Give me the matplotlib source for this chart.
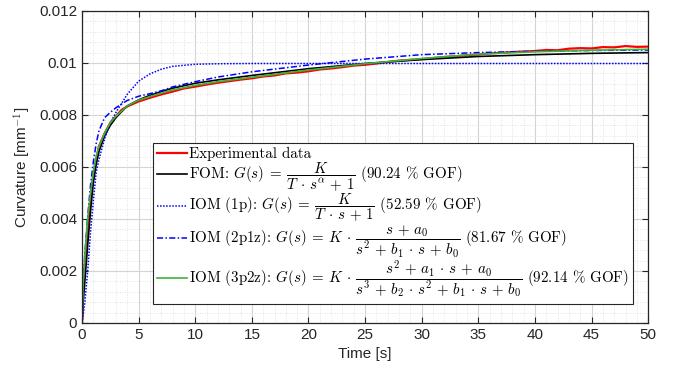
import matplotlib
matplotlib.use('Agg')
import matplotlib.pyplot as plt
from matplotlib.ticker import MultipleLocator, FormatStrFormatter

plt.rcParams['mathtext.fontset'] = 'cm'

# time grid for the model curves
t_mod = [0, 0.1, 0.25, 0.5, 0.75, 1, 1.25, 1.5, 2, 2.5, 3, 4, 5, 6, 7, 8,
         10, 12, 15, 20, 25, 30, 35, 40, 45, 50]

fom = [0, 0.0008, 0.0016, 0.0030, 0.0043, 0.0054, 0.0061, 0.0066, 0.0072, 0.0076,
       0.0079, 0.00835, 0.00858, 0.00876, 0.0089, 0.00903, 0.00922, 0.00935, 0.00952,
       0.00978, 0.00998, 0.01013, 0.01025, 0.01032, 0.01037, 0.0104]
iom_1p = [0, 0.0003, 0.0008, 0.0020, 0.0035, 0.0047, 0.0058, 0.0063, 0.0071, 0.0077,
          0.0081, 0.0088, 0.0093, 0.00958, 0.00976, 0.00987, 0.00995, 0.00997, 0.00998,
          0.00998, 0.00998, 0.00998, 0.00998, 0.00998, 0.00998, 0.00998]
iom_2p1z = [0, 0.0015, 0.0027, 0.0041, 0.0053, 0.0062, 0.0069, 0.0074, 0.0079, 0.0081,
            0.00828, 0.00856, 0.00872, 0.00882, 0.00893, 0.00908, 0.00928, 0.00946, 0.00966,
            0.00992, 0.01015, 0.01032, 0.0104, 0.01045, 0.01048, 0.0105]
iom_3p2z = [0, 0.0015, 0.0025, 0.0040, 0.0050, 0.0058, 0.0064, 0.0068, 0.0073, 0.0077,
            0.00795, 0.00835, 0.00857, 0.00871, 0.00884, 0.00896, 0.00914, 0.00928, 0.00945,
            0.00973, 0.00997, 0.01017, 0.01034, 0.01043, 0.01049, 0.01053]

# measured curve
t_exp = [0, 0.1, 0.25, 0.5, 0.75, 1, 1.25, 1.5, 2, 2.5, 3, 3.5, 4, 5, 6, 7, 8, 9, 10,
         11, 12, 13, 14, 15, 16, 17, 18, 19, 20, 21, 22, 23, 24, 25, 26, 27, 28, 29, 30,
         31, 32, 33, 34, 35, 36, 37, 38, 39, 40, 41, 42, 43, 44, 45, 46, 47, 48, 49, 50]
exp_data = [0, 0.0012, 0.0023, 0.0037, 0.0048, 0.0057, 0.0063, 0.0068, 0.0073, 0.0077,
            0.00795, 0.0082, 0.00833, 0.00852, 0.00866, 0.00879, 0.0089, 0.00902, 0.00909,
            0.00917, 0.00924, 0.0093, 0.00936, 0.00941, 0.00948, 0.00952, 0.0096, 0.00963,
            0.00968, 0.00975, 0.00979, 0.00984, 0.0099, 0.00993, 0.00998, 0.01004, 0.01009,
            0.01012, 0.01015, 0.01019, 0.01023, 0.01026, 0.0103, 0.01033, 0.01037, 0.01039,
            0.01042, 0.01044, 0.01046, 0.0105, 0.01049, 0.01055, 0.01057, 0.01056, 0.01061,
            0.0106, 0.01065, 0.01062, 0.01063]

labels = [
    r'Experimental data',
    r'FOM: $G(s)\:=\:\dfrac{K}{T\,\cdot\,s^{\alpha}\,+\,1}$ (90.24 % GOF)',
    r'IOM (1p): $G(s)\:=\:\dfrac{K}{T\,\cdot\,s\,+\,1}$ (52.59 % GOF)',
    r'IOM (2p1z): $G(s)\:=\:K\,\cdot\,\dfrac{s\,+\,a_0}{s^2\,+\,b_1\,\cdot\,s\,+\,b_0}$ (81.67 % GOF)',
    r'IOM (3p2z): $G(s)\:=\:K\,\cdot\,\dfrac{s^2\,+\,a_1\,\cdot\,s\,+\,a_0}'
    r'{s^3\,+\,b_2\,\cdot\,s^2\,+\,b_1\,\cdot\,s\,+\,b_0}$ (92.14 % GOF)',
]

fig = plt.figure(figsize=(6.78, 3.79), dpi=100)
ax = fig.add_axes([0.121, 0.148, 0.835, 0.823])

ax.plot(t_exp, exp_data, color='#ff0000', lw=1.6, label=labels[0])
ax.plot(t_mod, fom, color='k', lw=1.2, label=labels[1])
ax.plot(t_mod, iom_1p, color='#0000ff', lw=1.1, ls=(0, (1, 1)), label=labels[2])
ax.plot(t_mod, iom_2p1z, color='#0000ff', lw=1.1, ls=(0, (4, 1.5, 1, 1.5)), label=labels[3])
ax.plot(t_mod, iom_3p2z, color='#3cb43c', lw=1.2, label=labels[4])

ax.set_xlim(0, 50)
ax.set_ylim(0, 0.012)
ax.xaxis.set_major_locator(MultipleLocator(5))
ax.xaxis.set_minor_locator(MultipleLocator(1))
ax.yaxis.set_major_locator(MultipleLocator(0.002))
ax.yaxis.set_minor_locator(MultipleLocator(0.0004))
ax.yaxis.set_major_formatter(FormatStrFormatter('%g'))

ax.grid(which='major', color='#d4d4d4', lw=0.8, ls='-')
ax.grid(which='minor', color='#d9d9d9', lw=0.6, ls=(0, (1, 2)))
ax.set_axisbelow(True)
ax.tick_params(which='major', direction='in', top=True, right=True, length=4,
               labelsize=11, colors='#262626')
ax.tick_params(which='minor', length=0)
for sp in ax.spines.values():
    sp.set_color('#262626')
    sp.set_linewidth(0.9)
for lab in ax.get_xticklabels() + ax.get_yticklabels():
    lab.set_family('Liberation Sans')

ax.set_xlabel('Time [s]', fontsize=11, family='Liberation Sans', color='#262626')
ax.set_ylabel(r'Curvature [mm$^{\mathsf{-1}}$]', fontsize=11, family='Liberation Sans',
              color='#262626')

leg = ax.legend(loc='lower right', bbox_to_anchor=(0.973, 0.06), fancybox=False,
                edgecolor='#262626', framealpha=1, prop={'family': 'cmr10', 'size': 10.8},
                handlelength=2.0, handletextpad=0.15, borderaxespad=0,
                labelspacing=-0.05, borderpad=0.25)
leg.get_frame().set_linewidth(0.8)

fig.savefig('out.png', dpi=100)
